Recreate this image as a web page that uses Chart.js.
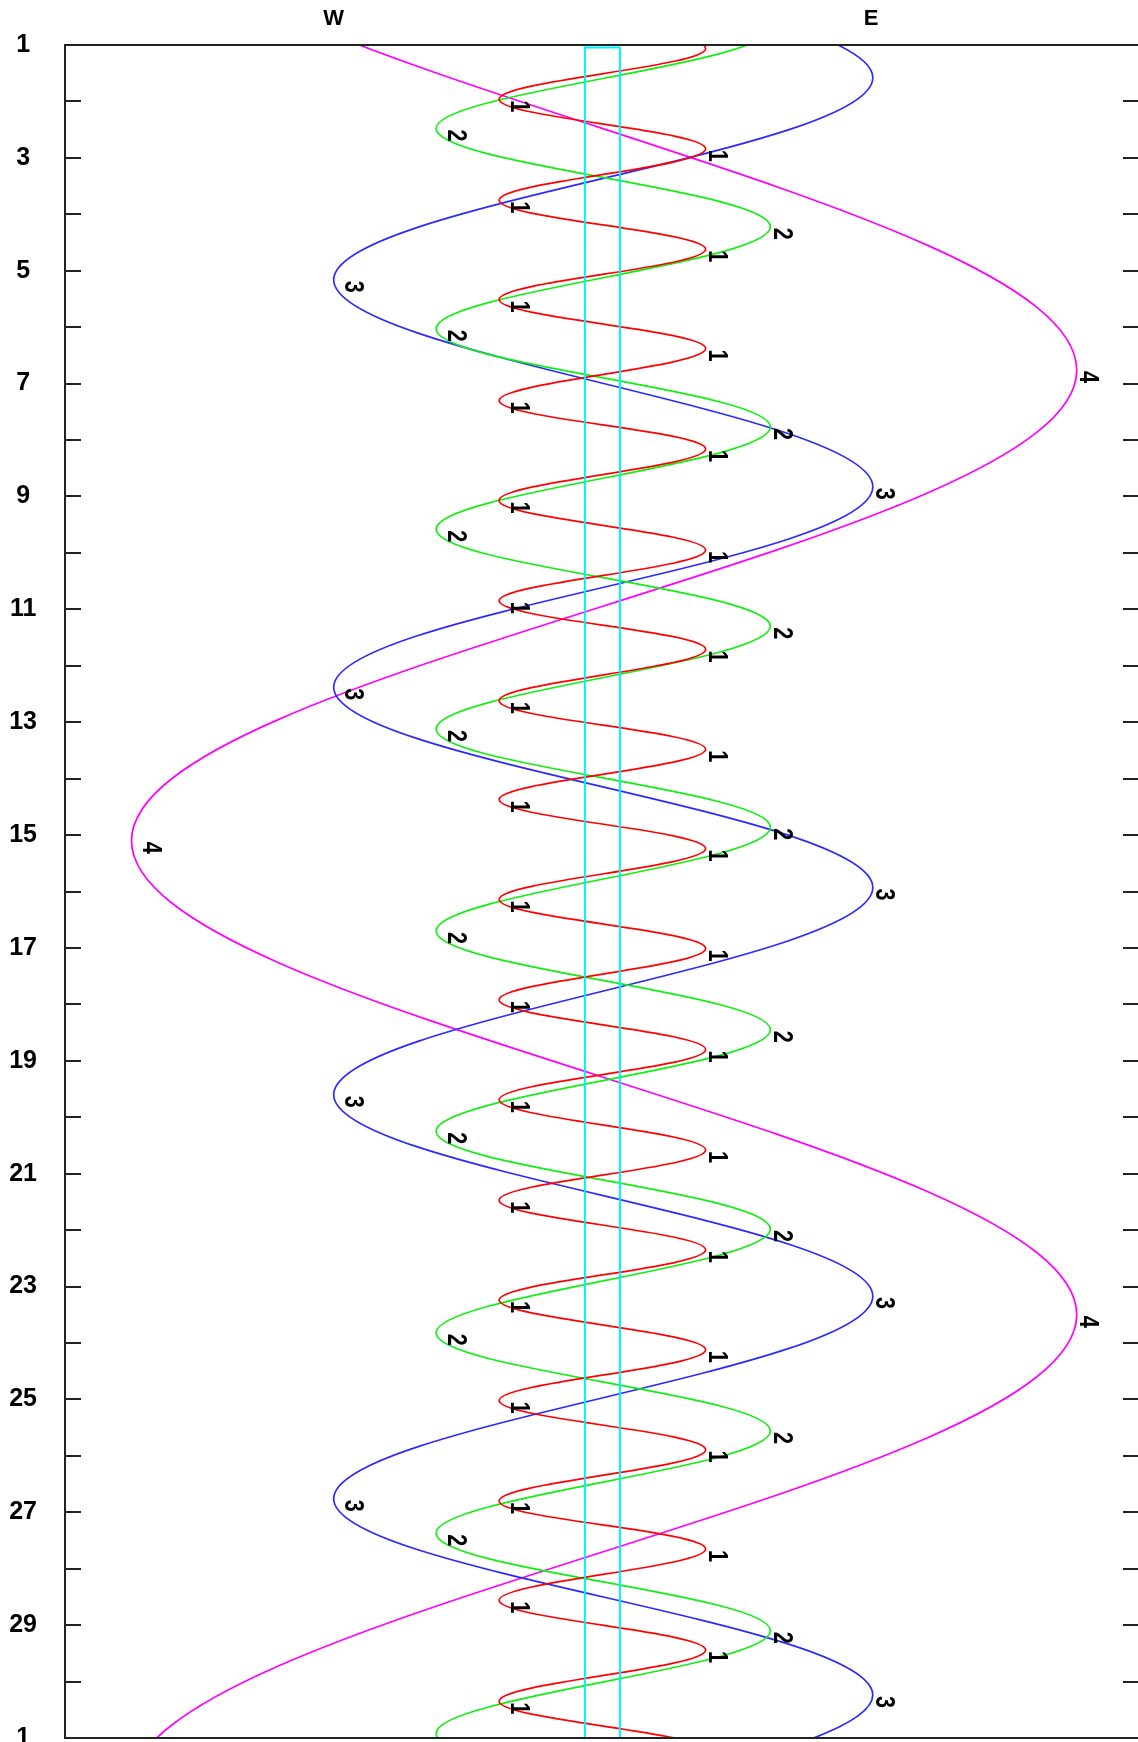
<!DOCTYPE html>
<html>
<head>
<meta charset="utf-8">
<script src="https://cdn.jsdelivr.net/npm/chart.js@4.4.1/dist/chart.umd.min.js"></script>
<style>
  html, body { margin: 0; padding: 0; background: #fff; overflow: hidden; }
  #wrap { width: 1138px; height: 1742px; position: relative; }
</style>
</head>
<body>
<div id="wrap"><canvas id="moons"></canvas></div>
<script>
// greatest elongations: day of month and distance from Jupiter in radii (E +, W -)
const ioDays = [-0.72, 0.17, 1.06, 1.96, 2.84, 3.75, 4.62, 5.51, 6.38, 7.30,
  8.16, 9.07, 9.95, 10.85, 11.71, 12.62, 13.48, 14.37, 15.24, 16.14,
  17.01, 17.92, 18.80, 19.69, 20.58, 21.47, 22.35, 23.24, 24.12, 25.02,
  25.89, 26.80, 27.65, 28.56, 29.44, 30.35, 31.22, 32.10];
const ioPos = [5.9, -5.9, 5.9, -5.9, 5.9, -5.9, 5.9, -5.9, 5.9, -5.9,
  5.9, -5.9, 5.9, -5.9, 5.9, -5.9, 5.9, -5.9, 5.9, -5.9,
  5.9, -5.9, 5.9, -5.9, 5.9, -5.9, 5.9, -5.9, 5.9, -5.9,
  5.9, -5.9, 5.9, -5.9, 5.9, -5.9, 5.9, -5.9];

const europaDays = [-1.07, 0.70, 2.48, 4.22, 6.03, 7.77, 9.58, 11.30, 13.12, 14.86,
  16.70, 18.45, 20.25, 21.98, 23.82, 25.56, 27.37, 29.10, 30.92, 32.68, 34.45];
const europaPos = [-9.5, 9.6, -9.5, 9.6, -9.5, 9.6, -9.5, 9.6, -9.5, 9.6,
  -9.5, 9.6, -9.5, 9.6, -9.5, 9.6, -9.5, 9.6, -9.5, 9.6, -9.5];

const ganymedeDays = [-5.60, -2.00, 1.58, 5.16, 8.83, 12.38, 15.93, 19.60, 23.17, 26.76, 30.24, 33.82, 37.40];
const ganymedePos = [15.45, -15.35, 15.45, -15.35, 15.45, -15.35, 15.45, -15.35, 15.45, -15.35, 15.45, -15.35, 15.45];

const callistoDays = [-10.20, -1.80, 6.76, 15.10, 23.50, 31.90, 40.30];
const callistoPos = [27.0, -27.0, 27.1, -26.9, 27.1, -27.0, 27.0];

// Jupiter's disc edges
const jupiterEdge = [-1, 1];
const jupiterTop = 1.045;

const tickDays = [1, 3, 5, 7, 9, 11, 13, 15, 17, 19, 21, 23, 25, 27, 29, 31];
const tickText = ['1', '3', '5', '7', '9', '11', '13', '15', '17', '19', '21', '23', '25', '27', '29', '1'];
const sideAt = [-15.35, 15.35];
const sideText = ['W', 'E'];

function pts(days, pos) {
  return days.map((d, i) => ({ x: pos[i], y: d }));
}

Chart.defaults.font.family = '"Liberation Sans", Arial, sans-serif';
Chart.defaults.color = '#000';

// short inward ticks at every day + frame
const frame = {
  id: 'frame',
  afterDatasetsDraw(chart) {
    const { ctx, chartArea: a, scales: { y } } = chart;
    ctx.save();
    ctx.strokeStyle = '#222';
    ctx.lineWidth = 2;
    ctx.beginPath();
    for (let d = 2; d <= 30; d++) {
      const py = Math.round(y.getPixelForValue(d));
      ctx.moveTo(a.left, py); ctx.lineTo(a.left + 16, py);
      ctx.moveTo(a.right - 15, py); ctx.lineTo(a.right, py);
    }
    ctx.stroke();
    ctx.strokeRect(a.left, a.top, a.right - a.left + 6, a.bottom - a.top);
    ctx.restore();
  }
};

// moon number at each elongation, written sideways
const moonNumbers = {
  id: 'moonNumbers',
  afterDatasetsDraw(chart) {
    const { ctx, scales: { x, y } } = chart;
    ctx.save();
    ctx.fillStyle = '#000';
    ctx.font = 'bold 27px "Liberation Sans"';
    ctx.textAlign = 'center';
    ctx.textBaseline = 'middle';
    chart.data.datasets.forEach(ds => {
      if (!ds.moon) return;
      ds.data.forEach(p => {
        if (p.y < 1.7 || p.y > 30.7) return;
        const px = x.getPixelForValue(p.x) + (p.x > 0 ? 11 : 19);
        const py = y.getPixelForValue(p.y) + 7;
        ctx.save();
        ctx.translate(px, py);
        ctx.rotate(Math.PI / 2);
        ctx.scale(0.8, 1);
        ctx.fillText(ds.moon, 0, 0);
        ctx.restore();
      });
    });
    ctx.restore();
  }
};

const moonLine = { showLine: true, pointRadius: 0, borderWidth: 1.7, tension: 0.363, capBezierPoints: false, fill: false };

new Chart(document.getElementById('moons'), {
  type: 'scatter',
  data: {
    datasets: [
      {
        label: 'Jupiter',
        data: [
          { x: jupiterEdge[0], y: 31 }, { x: jupiterEdge[0], y: jupiterTop },
          { x: jupiterEdge[1], y: jupiterTop }, { x: jupiterEdge[1], y: 31 }
        ],
        borderColor: '#00f0ff', borderWidth: 2, showLine: true, pointRadius: 0, tension: 0
      },
      { ...moonLine, label: 'Io', moon: '1', data: pts(ioDays, ioPos), borderColor: '#ff0000' },
      { ...moonLine, label: 'Europa', moon: '2', data: pts(europaDays, europaPos), borderColor: '#11ee11' },
      { ...moonLine, label: 'Ganymede', moon: '3', data: pts(ganymedeDays, ganymedePos), borderColor: '#2a2aff' },
      { ...moonLine, label: 'Callisto', moon: '4', data: pts(callistoDays, callistoPos), borderColor: '#ff00ff' }
    ]
  },
  options: {
    responsive: true,
    maintainAspectRatio: false,
    animation: false,
    events: [],
    layout: { autoPadding: false, padding: { left: 0, right: 0, top: 0, bottom: 4 } },
    plugins: { legend: { display: false }, tooltip: { enabled: false } },
    scales: {
      x: {
        type: 'linear',
        position: 'top',
        min: -30.7,
        max: 30.6,
        afterBuildTicks: ax => { ax.ticks = sideAt.map(v => ({ value: v })); },
        afterFit: ax => { ax.height = 45; ax.paddingLeft = 0; ax.paddingRight = 0; },
        grid: { display: false },
        border: { display: false },
        ticks: {
          autoSkip: false, maxRotation: 0, padding: 5,
          font: { size: 22, weight: 'bold' },
          callback: (v, i) => sideText[i]
        }
      },
      y: {
        type: 'linear',
        reverse: true,
        min: 1,
        max: 31,
        afterBuildTicks: ax => { ax.ticks = tickDays.map(v => ({ value: v })); },
        afterFit: ax => { ax.width = 65; ax.paddingTop = 0; ax.paddingBottom = 0; },
        grid: { display: false },
        border: { display: false },
        ticks: {
          autoSkip: false, crossAlign: 'center', padding: 20,
          font: { size: 25, weight: 'bold' },
          callback: (v, i) => tickText[i]
        }
      }
    }
  },
  plugins: [frame, moonNumbers]
});
</script>
</body>
</html>
